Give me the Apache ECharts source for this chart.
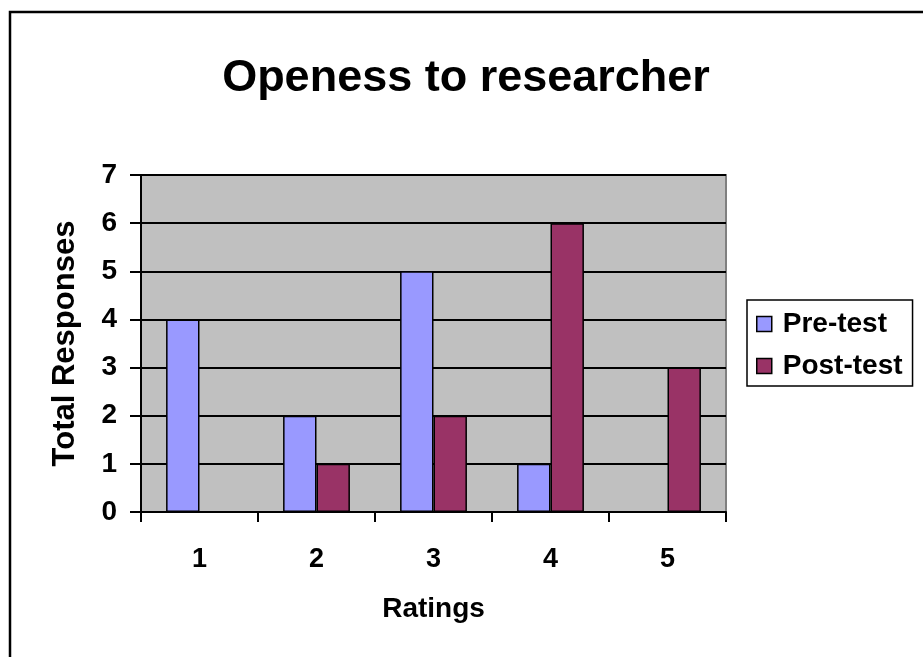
<!DOCTYPE html>
<html>
<head>
<meta charset="utf-8">
<script src="https://cdn.jsdelivr.net/npm/echarts@6/dist/echarts.min.js"></script>
<style>
  html, body { margin: 0; padding: 0; background: #fff; }
  #chart { width: 923px; height: 657px; }
</style>
</head>
<body>
<div id="chart"></div>
<script>
const ratings = ['1', '2', '3', '4', '5'];
const preTest = [4, 2, 5, 1, 0];
const postTest = [0, 1, 2, 6, 3];
const yTicks = [0, 1, 2, 3, 4, 5, 6, 7];

const font = 'Liberation Sans, Arial, sans-serif';

const myChart = echarts.init(document.getElementById('chart'));

const option = {
  animation: false,
  backgroundColor: '#fff',
  textStyle: { fontFamily: font },
  graphic: [{
    type: 'rect',
    shape: { x: 10, y: 12, width: 940, height: 700 },
    style: { fill: 'none', stroke: '#000', lineWidth: 2.5 },
    silent: true
  }],
  title: {
    text: 'Openess to researcher',
    left: 461,
    textAlign: 'center',
    top: 51,
    textStyle: { fontFamily: font, fontWeight: 'bold', fontSize: 45, color: '#000' }
  },
  legend: {
    orient: 'vertical',
    left: 747,
    top: 300,
    padding: [10, 10, 6, 9],
    itemGap: 14,
    itemWidth: 15,
    itemHeight: 15,
    icon: 'rect',
    borderColor: '#000',
    borderWidth: 1.5,
    backgroundColor: '#fff',
    textStyle: { fontFamily: font, fontWeight: 'bold', fontSize: 28, color: '#000', padding: [0, 0, 0, 6] },
    itemStyle: { borderColor: '#000', borderWidth: 1.5 },
    data: ['Pre-test', 'Post-test']
  },
  grid: {
    left: 141,
    top: 175,
    right: 197,
    bottom: 145,
    show: true,
    backgroundColor: '#c0c0c0',
    borderColor: '#808080',
    borderWidth: 2
  },
  xAxis: {
    type: 'category',
    data: ratings,
    name: 'Ratings',
    nameLocation: 'middle',
    nameGap: 83,
    nameTextStyle: { fontFamily: font, fontWeight: 'bold', fontSize: 28, color: '#000' },
    axisLine: { lineStyle: { color: '#000', width: 2 } },
    axisTick: { show: true, length: 10, lineStyle: { color: '#000', width: 2 } },
    axisLabel: { margin: 34, fontFamily: font, fontWeight: 'bold', fontSize: 27, color: '#000' }
  },
  yAxis: {
    type: 'value',
    min: yTicks[0],
    max: yTicks[yTicks.length - 1],
    interval: 1,
    name: 'Total Responses',
    nameLocation: 'middle',
    nameGap: 60,
    nameTextStyle: { fontFamily: font, fontWeight: 'bold', fontSize: 31, color: '#000' },
    axisLine: { show: true, lineStyle: { color: '#000', width: 2 } },
    axisTick: { show: true, length: 11, lineStyle: { color: '#000', width: 2 } },
    axisLabel: { margin: 24, fontFamily: font, fontWeight: 'bold', fontSize: 28, color: '#000' },
    splitLine: { show: true, lineStyle: { color: '#000', width: 2 } }
  },
  series: [
    {
      name: 'Pre-test',
      type: 'bar',
      data: preTest,
      barGap: '0%',
      barCategoryGap: '42.86%',
      itemStyle: { color: '#9999ff', borderColor: '#000', borderWidth: 1.5 }
    },
    {
      name: 'Post-test',
      type: 'bar',
      data: postTest,
      barGap: '0%',
      barCategoryGap: '42.86%',
      itemStyle: { color: '#993366', borderColor: '#000', borderWidth: 1.5 }
    }
  ]
};

myChart.setOption(option);
</script>
</body>
</html>
